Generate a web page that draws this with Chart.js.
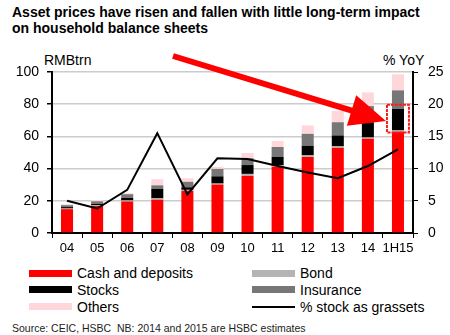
<!DOCTYPE html>
<html>
<head>
<meta charset="utf-8">
<script src="https://cdn.jsdelivr.net/npm/chart.js@4"></script>
<style>
  body { margin: 0; background: #fff; font-family: "Liberation Sans", Arial, sans-serif; }
  #wrap { position: relative; width: 450px; height: 335px; overflow: hidden; }
  #title { position: absolute; left: 12px; top: 4px; font-weight: bold; font-size: 14px; line-height: 16px; color: #000; }
  .unit { position: absolute; top: 52px; font-size: 14px; color: #000; }
  #chartBox { position: absolute; left: 0; top: 0; width: 450px; height: 262px; }
  .lg { position: absolute; font-size: 14px; color: #000; line-height: 16px; }
  .sw { position: absolute; width: 43px; height: 7px; }
  #source { position: absolute; left: 12px; top: 322px; font-size: 10.5px; color: #222; }
</style>
</head>
<body>
<div id="wrap">
  <div id="title">Asset prices have risen and fallen with little long-term impact<br>on household balance sheets</div>
  <div class="unit" style="left:44px">RMBtrn</div>
  <div class="unit" style="left:383px">% YoY</div>
  <div id="chartBox"><canvas id="chart"></canvas></div>
  <div id="legend"></div>
  <div id="source">Source: CEIC, HSBC&nbsp; NB: 2014 and 2015 are HSBC estimates</div>
</div>
<script>
const labels = ["04", "05", "06", "07", "08", "09", "10", "11", "12", "13", "14", "1H15"];
const cash = [14.8, 16.8, 19.6, 20.7, 26.2, 30.1, 35.5, 41.2, 47.2, 53.0, 58.5, 62.9];
const bond = [0.4, 0.5, 0.6, 0.8, 0.6, 0.6, 1.2, 0.8, 1.0, 0.8, 0.8, 0.8];
const stocks = [0.9, 0.8, 1.6, 5.9, 1.6, 4.5, 5.5, 5.2, 6.0, 6.8, 9.5, 13.4];
const insurance = [1.2, 1.6, 2.3, 2.2, 3.4, 4.6, 4.3, 6.2, 7.4, 8.2, 10.0, 11.5];
const others = [0.6, 0.8, 0.6, 3.8, 2.2, 1.3, 3.2, 3.8, 5.2, 7.1, 8.5, 10.0];
const stockShare = [5.0, 3.8, 6.7, 15.5, 6.0, 11.6, 11.5, 10.4, 9.4, 8.5, 10.4, 13.0];
const leftTicks = [0, 20, 40, 60, 80, 100];
const rightTicks = [0, 5, 10, 15, 20, 25];

const legendItems = [
  { text: "Cash and deposits", color: "#ff0000", col: 0, row: 0 },
  { text: "Stocks", color: "#000000", col: 0, row: 1 },
  { text: "Others", color: "#ffd6da", col: 0, row: 2 },
  { text: "Bond", color: "#b4b4b4", col: 1, row: 0 },
  { text: "Insurance", color: "#777777", col: 1, row: 1 },
  { text: "% stock as grassets", color: "#000000", col: 1, row: 2, line: true }
];
const legend = document.getElementById("legend");
legend.innerHTML = legendItems.map(item => {
  const x = item.col ? 252 : 29;
  const y = 273 + item.row * 16.8;
  const h = item.line ? 2 : 7;
  return `<div class="sw" style="left:${x}px;top:${y - h / 2}px;height:${h}px;background:${item.color}"></div>
          <div class="lg" style="left:${x + 48}px;top:${y - 8}px">${item.text}</div>`;
}).join("");

// red arrow + highlight box round the 1H15 stocks block
const annotate = {
  id: "annotate",
  afterDraw(chart) {
    const ctx = chart.ctx;
    const xs = chart.scales.x, ys = chart.scales.y;
    const i = labels.length - 1;
    const cx = xs.getPixelForValue(i);
    const top = ys.getPixelForValue(cash[i] + bond[i] + stocks[i]) - 4;
    const bottom = ys.getPixelForValue(cash[i] + bond[i]) + 2;
    ctx.save();
    ctx.strokeStyle = "#ff1a1a";
    ctx.lineWidth = 2;
    ctx.setLineDash([3, 1]);
    ctx.strokeRect(cx - 11, top, 22, bottom - top);
    ctx.setLineDash([]);

    const x0 = 173, y0 = 56, tx = cx - 12, ty = 121;
    const ang = Math.atan2(ty - y0, tx - x0);
    const headLen = 36, headW = 16;
    const bx = tx - headLen * Math.cos(ang), by = ty - headLen * Math.sin(ang);
    ctx.strokeStyle = "#ff0000";
    ctx.lineWidth = 6;
    ctx.beginPath();
    ctx.moveTo(x0, y0);
    ctx.lineTo(bx + 2 * Math.cos(ang), by + 2 * Math.sin(ang));
    ctx.stroke();
    ctx.fillStyle = "#ff0000";
    ctx.beginPath();
    ctx.moveTo(tx, ty);
    ctx.lineTo(bx - headW * Math.sin(ang), by + headW * Math.cos(ang));
    ctx.lineTo(bx + headW * Math.sin(ang), by - headW * Math.cos(ang));
    ctx.closePath();
    ctx.fill();
    ctx.restore();
  }
};

const tickFont = { family: "'Liberation Sans', Arial, sans-serif", size: 14 };

new Chart(document.getElementById("chart"), {
  type: "bar",
  data: {
    labels: labels,
    datasets: [
      { label: "Cash and deposits", data: cash, backgroundColor: "#ff0000", stack: "s", order: 2 },
      { label: "Bond", data: bond, backgroundColor: "#b4b4b4", stack: "s", order: 2 },
      { label: "Stocks", data: stocks, backgroundColor: "#000000", stack: "s", order: 2 },
      { label: "Insurance", data: insurance, backgroundColor: "#777777", stack: "s", order: 2 },
      { label: "Others", data: others, backgroundColor: "#ffd6da", stack: "s", order: 2 },
      { label: "% stock as grassets", type: "line", data: stockShare, yAxisID: "y1",
        borderColor: "#000", borderWidth: 2, pointRadius: 0, tension: 0, order: 1 }
    ]
  },
  options: {
    responsive: true,
    maintainAspectRatio: false,
    animation: false,
    layout: { padding: { top: 72, left: 0, right: 0, bottom: 0 } },
    datasets: { bar: { barPercentage: 0.4, categoryPercentage: 1 } },
    plugins: { legend: { display: false }, tooltip: { enabled: false } },
    scales: {
      x: {
        stacked: true,
        afterFit: s => { s.height = 29; },
        grid: { offset: true, drawOnChartArea: false, tickColor: "#000", tickLength: 5 },
        border: { color: "#000", width: 2 },
        ticks: { color: "#000", font: { family: tickFont.family, size: 13 }, padding: 3,
          maxRotation: 0, minRotation: 0, autoSkip: false }
      },
      y: {
        stacked: true,
        min: 0, max: 100,
        afterFit: s => { s.width = 52; },
        afterBuildTicks: s => { s.ticks = leftTicks.map(v => ({ value: v })); },
        grid: { color: "#cccccc", lineWidth: 1.5, tickColor: "#000", tickLength: 5 },
        border: { color: "#000", width: 2 },
        ticks: { color: "#000", font: tickFont, padding: 8 }
      },
      y1: {
        position: "right",
        min: 0, max: 25,
        afterFit: s => { s.width = 37; },
        afterBuildTicks: s => { s.ticks = rightTicks.map(v => ({ value: v })); },
        grid: { drawOnChartArea: false, tickColor: "#000", tickLength: 5 },
        border: { color: "#000", width: 2 },
        ticks: { color: "#000", font: tickFont, padding: 10 }
      }
    }
  },
  plugins: [annotate]
});
</script>
</body>
</html>
